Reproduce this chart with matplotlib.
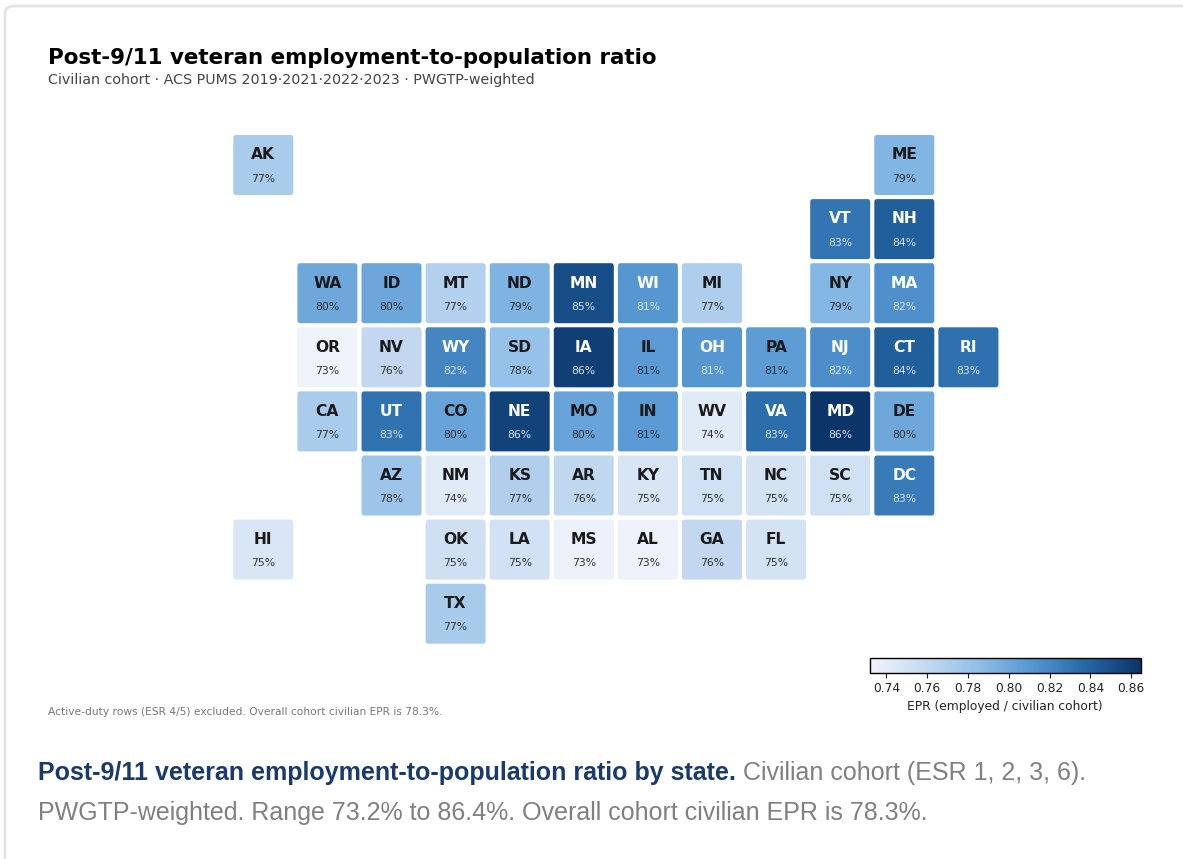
import matplotlib
matplotlib.use("Agg")
import matplotlib.pyplot as plt
from matplotlib.patches import FancyBboxPatch
from matplotlib.colors import LinearSegmentedColormap, Normalize
from matplotlib.cm import ScalarMappable

W, H = 1183, 859
states = ["AK","ME","VT","NH","WA","ID","MT","ND","MN","WI","MI","NY","MA","OR","NV","WY","SD","IA","IL","OH","PA","NJ","CT","RI",
          "CA","UT","CO","NE","MO","IN","WV","VA","MD","DE","AZ","NM","KS","AR","KY","TN","NC","SC","DC","HI","OK","LA","MS","AL","GA","FL","TX"]
cols = [0,10,9,10,1,2,3,4,5,6,7,9,10,1,2,3,4,5,6,7,8,9,10,11,
        1,2,3,4,5,6,7,8,9,10,2,3,4,5,6,7,8,9,10,0,3,4,5,6,7,8,3]
rows = [0,0,1,1,2,2,2,2,2,2,2,2,2,3,3,3,3,3,3,3,3,3,3,3,
        4,4,4,4,4,4,4,4,4,4,5,5,5,5,5,5,5,5,5,6,6,6,6,6,6,6,7]
values = [.772,.792,.830,.842,.800,.801,.768,.793,.851,.811,.770,.790,.815,.732,.760,.821,.782,.859,.809,.811,.808,.816,.842,.832,
          .772,.831,.803,.857,.803,.809,.741,.834,.864,.800,.779,.741,.769,.762,.748,.752,.750,.752,.827,.746,.753,.751,.734,.733,.760,.750,.773]
cbar_ticks = [0.74,0.76,0.78,0.80,0.82,0.84,0.86]

cmap = LinearSegmentedColormap.from_list("b", ["#eff4fb","#c6daf1","#90bfe8","#5596d2","#2566a6","#0b3569"])
norm = Normalize(0.732, 0.8645)

fig = plt.figure(figsize=(W/100, H/100), dpi=100, facecolor="white")
fig.add_artist(FancyBboxPatch((5/W, -20/H), (W+30)/W, (H+14)/H, boxstyle="round,pad=0,rounding_size=0.008",
                              transform=fig.transFigure, fc="white", ec="#e4e4e4", lw=2, zorder=-5))
P, S, X0, Y0 = 64.1, 60, 233.3, 135
ax = fig.add_axes([0, 0, 1, 1]); ax.set_xlim(-X0/P, (W-X0)/P); ax.set_ylim((H-Y0)/P, -Y0/P); ax.axis("off")
s = S/P
for st, c, r, v in zip(states, cols, rows, values):
    ax.add_patch(FancyBboxPatch((c+0.03, r+0.03), s-0.06, s-0.06, boxstyle="round,pad=0.03,rounding_size=0.04",
                                fc=cmap(norm(v)), ec="none"))
    dark = v >= 0.81
    ax.text(c+s/2, r+0.31, st, ha="center", va="center", fontsize=11.2, fontweight="bold", color="white" if dark else "#1a1a1a")
    ax.text(c+s/2, r+0.68, f"{v*100:.0f}%", ha="center", va="center", fontsize=7.8, color="#d6e4f2" if dark else "#333333")

fig.text(48/W, 1-58/H, "Post-9/11 veteran employment-to-population ratio", fontsize=15.4, fontweight="bold", color="black", va="center")
fig.text(48/W, 1-80/H, "Civilian cohort · ACS PUMS 2019·2021·2022·2023 · PWGTP-weighted", fontsize=10.27, color="#444444", va="center")
fig.text(48/W, 1-712/H, "Active-duty rows (ESR 4/5) excluded. Overall cohort civilian EPR is 78.3%.", fontsize=7.7, color="#777777", va="center")

cax = fig.add_axes([870/W, 1-673/H, 270.5/W, 15/H])
cb = fig.colorbar(ScalarMappable(norm=norm, cmap=cmap), cax=cax, orientation="horizontal")
cb.set_ticks(cbar_ticks); cb.set_ticklabels([f"{t:.2f}" for t in cbar_ticks])
cb.ax.tick_params(labelsize=8.8, length=3.5, width=0.8, pad=3, colors="#222222")
cb.outline.set_linewidth(1.0)
cb.set_label("EPR (employed / civilian cohort)", fontsize=8.8, color="#222222", labelpad=3.5)

t1 = fig.text(38/W, 1-773/H, "Post-9/11 veteran employment-to-population ratio by state.", family="Liberation Sans",
              fontsize=18, fontweight="bold", color="#1a3a6e", va="center")
ax2 = fig.add_axes([0, 0, 1, 1]); ax2.axis("off")
ax2.annotate(" Civilian cohort (ESR 1, 2, 3, 6).", xy=(1, 0), xycoords=t1, va="bottom", family="Liberation Sans", fontsize=18, color="#808080", annotation_clip=False)
fig.text(38/W, 1-813/H, "PWGTP-weighted. Range 73.2% to 86.4%. Overall cohort civilian EPR is 78.3%.", family="Liberation Sans",
         fontsize=18, color="#808080", va="center")
fig.savefig("out.png", dpi=100)
